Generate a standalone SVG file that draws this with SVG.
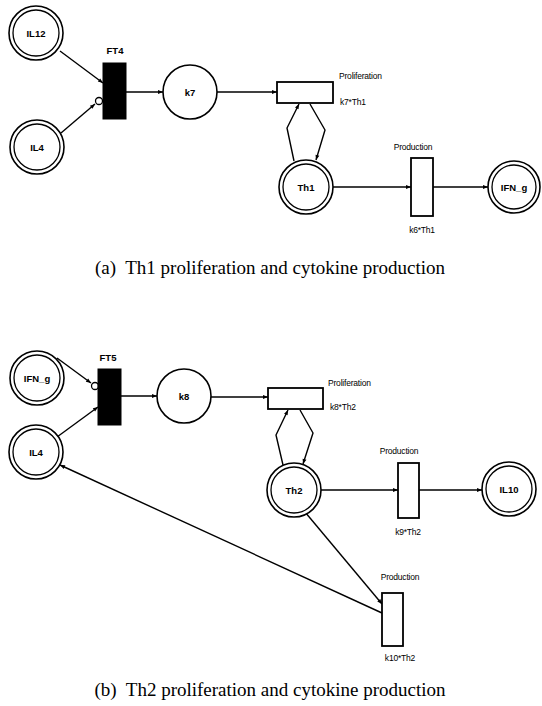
<svg xmlns="http://www.w3.org/2000/svg" width="542" height="706" viewBox="0 0 542 706">
<style>
.o{fill:#fff;stroke:#000;stroke-width:1.6}
.i{fill:none;stroke:#000;stroke-width:1.3}
.c{fill:#fff;stroke:#000;stroke-width:1.3}
.t{fill:#fff;stroke:#000;stroke-width:1.8}
.b{fill:#000;stroke:#000;stroke-width:1}
.e{fill:none;stroke:#000;stroke-width:1.4}
.n{font-family:"Liberation Sans",Arial,sans-serif;font-size:9.5px;font-weight:bold;text-anchor:middle;dominant-baseline:central}
.l{font-family:"Liberation Sans",Arial,sans-serif;font-size:8.5px;letter-spacing:-0.2px}
.cap{font-family:"Liberation Serif","Times New Roman",serif;font-size:19px;text-anchor:middle;white-space:pre}
</style>
<defs>
<marker id="a" viewBox="0 0 10 10" refX="10" refY="5" markerWidth="7" markerHeight="5" orient="auto" markerUnits="userSpaceOnUse">
<path d="M0,1 L10,5 L0,9 z" fill="#000"/>
</marker>
</defs>
<g id="connectors">
<line class="e" x1="60" y1="51" x2="103" y2="83" marker-end="url(#a)"/>
<line class="e" x1="61" y1="133" x2="95" y2="104" marker-end="url(#a)"/>
<circle class="c" cx="99" cy="101" r="3.5"/>
<line class="e" x1="126" y1="92" x2="163" y2="92" marker-end="url(#a)"/>
<line class="e" x1="217" y1="92" x2="277" y2="92" marker-end="url(#a)"/>
<polyline class="e" points="294,161 287,128 299,104" marker-end="url(#a)"/>
<polyline class="e" points="310,104 325,130 316,160" marker-end="url(#a)"/>
<line class="e" x1="333" y1="187" x2="411" y2="187" marker-end="url(#a)"/>
<line class="e" x1="433" y1="187" x2="488" y2="187" marker-end="url(#a)"/>

<line class="e" x1="57" y1="358" x2="91" y2="383" marker-end="url(#a)"/>
<circle class="c" cx="95" cy="386" r="3.5"/>
<line class="e" x1="57" y1="437" x2="98" y2="407" marker-end="url(#a)"/>
<line class="e" x1="121" y1="396" x2="157" y2="396" marker-end="url(#a)"/>
<line class="e" x1="210" y1="397" x2="268" y2="397" marker-end="url(#a)"/>
<polyline class="e" points="283,465 276,435 288,410" marker-end="url(#a)"/>
<polyline class="e" points="300,410 313,433 303,464" marker-end="url(#a)"/>
<line class="e" x1="321" y1="490" x2="398" y2="490" marker-end="url(#a)"/>
<line class="e" x1="418" y1="490" x2="482" y2="490" marker-end="url(#a)"/>
<line class="e" x1="305" y1="512" x2="382" y2="604" marker-end="url(#a)"/>
<line class="e" x1="382" y1="613" x2="60" y2="465" marker-end="url(#a)"/>
</g>

<g id="IL12"><circle class="o" cx="36" cy="33" r="27"/><circle class="i" cx="36" cy="33" r="23"/><text class="n" x="36" y="33">IL12</text></g>
<g id="IL4a"><circle class="o" cx="37" cy="147" r="27"/><circle class="i" cx="37" cy="147" r="23"/><text class="n" x="37" y="147">IL4</text></g>
<g id="FT4"><rect class="b" x="103" y="63" width="23" height="56"/><text class="n" x="115" y="50">FT4</text></g>
<g id="k7"><circle class="o" cx="190" cy="92" r="27"/><text class="n" x="190" y="92">k7</text></g>
<g id="Prolif1"><rect class="t" x="277" y="82" width="56" height="21"/><text class="l" x="339" y="79">Proliferation</text><text class="l" x="340" y="105">k7*Th1</text></g>
<g id="Th1"><circle class="o" cx="306" cy="187" r="27"/><circle class="i" cx="306" cy="187" r="23"/><text class="n" x="306" y="187">Th1</text></g>
<g id="Prod1"><rect class="t" x="411" y="158" width="22" height="58"/><text class="l" x="413" y="150" text-anchor="middle">Production</text><text class="l" x="422" y="233" text-anchor="middle">k6*Th1</text></g>
<g id="IFNg1"><circle class="o" cx="514" cy="187" r="26"/><circle class="i" cx="514" cy="187" r="22"/><text class="n" x="514" y="187">IFN_g</text></g>

<text class="cap" x="270" y="274" xml:space="preserve">(a)  Th1 proliferation and cytokine production</text>

<g id="IFNg2"><circle class="o" cx="37" cy="378" r="27"/><circle class="i" cx="37" cy="378" r="23"/><text class="n" x="37" y="378">IFN_g</text></g>
<g id="IL4b"><circle class="o" cx="36" cy="452" r="27"/><circle class="i" cx="36" cy="452" r="23"/><text class="n" x="36" y="452">IL4</text></g>
<g id="FT5"><rect class="b" x="98" y="369" width="23" height="56"/><text class="n" x="108" y="357">FT5</text></g>
<g id="k8"><circle class="o" cx="184" cy="396" r="27"/><text class="n" x="184" y="396">k8</text></g>
<g id="Prolif2"><rect class="t" x="268" y="388" width="55" height="21"/><text class="l" x="328" y="386">Proliferation</text><text class="l" x="330" y="410">k8*Th2</text></g>
<g id="Th2"><circle class="o" cx="294" cy="490" r="27"/><circle class="i" cx="294" cy="490" r="23"/><text class="n" x="294" y="490">Th2</text></g>
<g id="Prod2"><rect class="t" x="398" y="463" width="21" height="55"/><text class="l" x="399" y="454" text-anchor="middle">Production</text><text class="l" x="408" y="535" text-anchor="middle">k9*Th2</text></g>
<g id="IL10"><circle class="o" cx="509" cy="489" r="27"/><circle class="i" cx="509" cy="489" r="23"/><text class="n" x="509" y="489">IL10</text></g>
<g id="Prod3"><rect class="t" x="382" y="593" width="21" height="53"/><text class="l" x="400" y="580" text-anchor="middle">Production</text><text class="l" x="400" y="661" text-anchor="middle">k10*Th2</text></g>

<text class="cap" x="270" y="696" xml:space="preserve">(b)  Th2 proliferation and cytokine production</text>
</svg>
